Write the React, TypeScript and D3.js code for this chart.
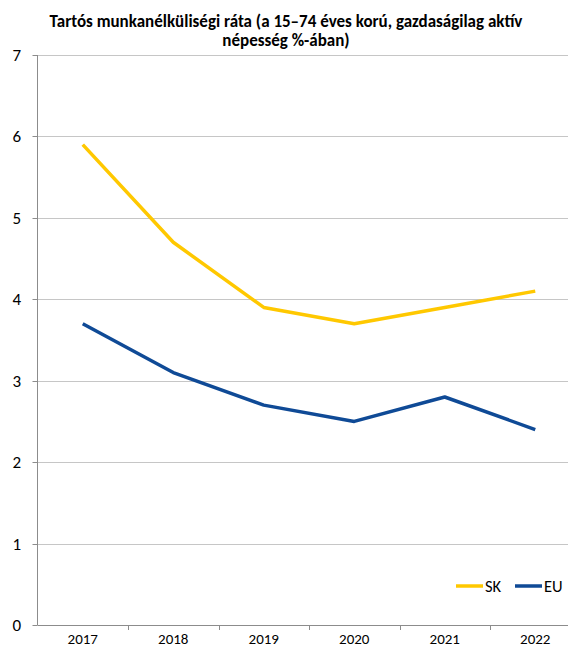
import React from "react";
import * as d3 from "d3";

const years = ["2017", "2018", "2019", "2020", "2021", "2022"];
const skValues = [5.9, 4.7, 3.9, 3.7, 3.9, 4.1];
const euValues = [3.7, 3.1, 2.7, 2.5, 2.8, 2.4];
const yTicks = [0, 1, 2, 3, 4, 5, 6, 7];
const titleLines = [
  "Tartós munkanélküliségi ráta (a 15–74 éves korú, gazdaságilag aktív",
  "népesség %-ában)",
];
const seriesNames = ["SK", "EU"];

const W = 568;
const H = 648;
const left = 37.5;
const top = 55;
const bottom = 625;
const bandW = 90.5;

export default function App() {
  const x = d3
    .scaleBand<string>()
    .domain(years)
    .range([left, left + bandW * years.length])
    .padding(0);
  const y = d3.scaleLinear().domain([0, 7]).range([bottom, top]);
  const line = d3
    .line<number>()
    .x((_, i) => (x(years[i]) as number) + x.bandwidth() / 2)
    .y((d) => y(d));
  const colors = ["#FFC800", "#0F4A96"];
  const series = [skValues, euValues];
  const font = "Carlito, Calibri, 'Open Sans', 'Noto Sans', sans-serif";

  return (
    <svg
      width={W}
      height={H}
      style={{ position: "absolute", left: 0, top: 0 }}
      fontFamily={font}
    >
      <rect width={W} height={H} fill="#fff" />
      {titleLines.map((t, i) => (
        <text
          key={i}
          x={286}
          y={27 + i * 19}
          textAnchor="middle"
          fontSize={17}
          fontWeight="bold"
          fill="#000"
        >
          {t}
        </text>
      ))}
      {yTicks.map((t) => (
        <g key={t}>
          {t > 0 && (
            <line
              x1={left}
              x2={W}
              y1={Math.round(y(t)) + 0.5}
              y2={Math.round(y(t)) + 0.5}
              stroke="#8c8c8c"
              strokeWidth={1}
              strokeDasharray="1,1"
            />
          )}
          <line
            x1={left - 5}
            x2={left}
            y1={Math.round(y(t)) + 0.5}
            y2={Math.round(y(t)) + 0.5}
            stroke="#8c8c8c"
          />
          <text
            x={21}
            y={y(t)}
            dy="0.35em"
            textAnchor="end"
            fontSize={17}
            fill="#000"
          >
            {t}
          </text>
        </g>
      ))}
      <line x1={left} x2={left} y1={top} y2={bottom} stroke="#8c8c8c" />
      <line x1={left} x2={W} y1={bottom + 0.5} y2={bottom + 0.5} stroke="#8c8c8c" />
      {years.map((yr) => (
        <g key={yr}>
          <line
            x1={Math.round((x(yr) as number) + bandW) + 0.5}
            x2={Math.round((x(yr) as number) + bandW) + 0.5}
            y1={bottom}
            y2={bottom + 5}
            stroke="#8c8c8c"
          />
          <text
            x={(x(yr) as number) + bandW / 2}
            y={644}
            textAnchor="middle"
            fontSize={15}
            fill="#000"
          >
            {yr}
          </text>
        </g>
      ))}
      {series.map((s, i) => (
        <path
          key={i}
          d={line(s) || ""}
          fill="none"
          stroke={colors[i]}
          strokeWidth={3.5}
          strokeLinejoin="round"
        />
      ))}
      {seriesNames.map((n, i) => (
        <g key={n} transform={`translate(${456 + i * 59},586)`}>
          <line x1={0} x2={27} y1={0} y2={0} stroke={colors[i]} strokeWidth={3.5} />
          <text x={29} y={0} dy="0.35em" fontSize={16.5} fill="#000">
            {n}
          </text>
        </g>
      ))}
    </svg>
  );
}
